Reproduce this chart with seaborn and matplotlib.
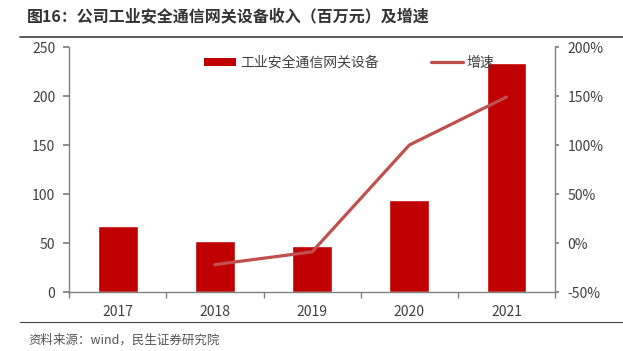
import pandas as pd
import matplotlib.pyplot as plt
import seaborn as sns
from matplotlib.lines import Line2D
from matplotlib.patches import Patch
from matplotlib.ticker import FixedLocator

# Data
years = ["2017", "2018", "2019", "2020", "2021"]
revenue = [67, 52, 47, 94, 234]            # 百万元
growth = [None, -22, -9, 100, 149]         # %

bar_name = "工业安全通信网关设备"
line_name = "增速"
title = "图16：公司工业安全通信网关设备收入（百万元）及增速"
source = "资料来源：wind，民生证券研究院"

BAR_RED = "#C00000"
LINE_RED = "#C0504D"
GREY = "#808080"
TEXT = "#404040"

sns.set_theme(style="white")
plt.rcParams["font.family"] = ["Noto Sans CJK SC", "DejaVu Sans"]

df = pd.DataFrame({"year": years, "revenue": revenue, "growth": growth})

fig = plt.figure(figsize=(6.23, 3.51), dpi=100)
ax = fig.add_axes([0.111, 0.168, 0.78, 0.698])

sns.barplot(data=df, x="year", y="revenue", order=years, color=BAR_RED,
            saturation=1, width=0.41, ax=ax)
ax.set_ylim(0, 250)
ax.set_xlim(-0.5, 4.5)
ax.set_yticks([0, 50, 100, 150, 200, 250])
ax.set_xlabel("")
ax.set_ylabel("")

ax2 = ax.twinx()
sns.pointplot(data=df.dropna(), x="year", y="growth", order=years,
              color=LINE_RED, markers="", linewidth=2.3, errorbar=None, ax=ax2)
ax2.set_ylim(-50, 200)
ax2.set_yticks([-50, 0, 50, 100, 150, 200])
ax2.set_yticklabels([f"{v}%" for v in [-50, 0, 50, 100, 150, 200]])
ax2.set_xlim(-0.5, 4.5)
ax2.set_ylabel("")

for a in (ax, ax2):
    for s in a.spines.values():
        s.set_visible(False)
ax.spines["left"].set_visible(True)
ax.spines["bottom"].set_visible(True)
ax2.spines["right"].set_visible(True)
for s in ("left", "bottom"):
    ax.spines[s].set_color(GREY)
    ax.spines[s].set_linewidth(1)
ax2.spines["right"].set_color(GREY)
ax2.spines["right"].set_linewidth(1)

ax.tick_params(axis="y", left=True, length=4, color=GREY, labelsize=10, labelcolor=TEXT, pad=6)
ax.tick_params(axis="x", which="major", bottom=False, labelsize=10, labelcolor=TEXT, pad=3)
ax.xaxis.set_minor_locator(FixedLocator([-0.5, 0.5, 1.5, 2.5, 3.5, 4.5]))
ax.tick_params(axis="x", which="minor", bottom=True, length=4, color=GREY)
ax2.tick_params(axis="y", right=True, length=3, color=GREY, labelsize=10, labelcolor=TEXT, pad=6)

handles = [Patch(facecolor=BAR_RED, edgecolor="none"),
           Line2D([0], [0], color=LINE_RED, linewidth=2.3)]
ax2.legend(handles, [bar_name, line_name], loc="upper center",
           bbox_to_anchor=(0.577, 1.015), ncol=2, frameon=False, fontsize=10,
           labelcolor=TEXT, handlelength=2.3, handleheight=0.55, columnspacing=3.8,
           handletextpad=0.25)

fig.text(0.043, 0.952, title, fontsize=11.5, fontweight="bold", color="#333333", va="center")
fig.add_artist(Line2D([0.032, 1.0], [0.895, 0.895], color="#404040", linewidth=1.2))
fig.add_artist(Line2D([0.032, 1.0], [0.083, 0.083], color="#404040", linewidth=0.8))
fig.text(0.045, 0.032, source, fontsize=9, color="#555555", va="center")

fig.savefig("out.png", dpi=100)
